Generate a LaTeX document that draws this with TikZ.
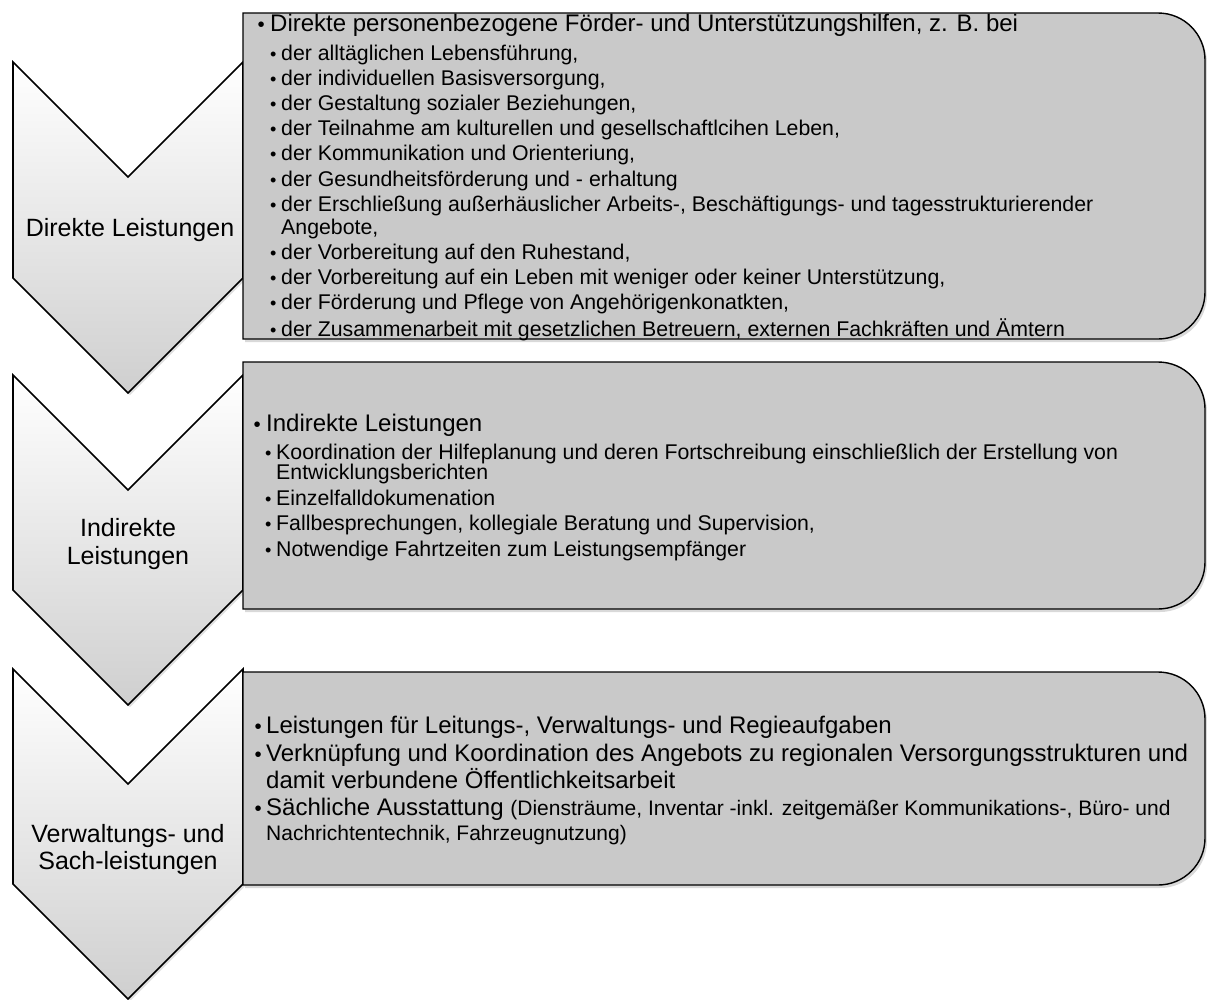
\documentclass[tikz,border=0pt]{standalone}
\usepackage{fontspec}
\setmainfont{Liberation Sans}
\usetikzlibrary{shadows}
\definecolor{boxgray}{HTML}{C9C9C9}
\definecolor{chevbot}{HTML}{CFCFCF}
\newcommand\bu[1]{\makebox[#1pt][c]{\scalebox{0.85}{\textbullet}}}
\tikzset{
  chev/.style={draw=black, line width=1.6pt, line join=miter, top color=white, bottom color=chevbot,
    drop shadow={opacity=0.25, shadow xshift=2pt, shadow yshift=-2pt}},
  panel/.style={draw=black, line width=1.4pt, fill=boxgray,
    drop shadow={opacity=0.3, shadow xshift=2pt, shadow yshift=-3pt}},
  lab/.style={font=\fontsize{25}{28}\selectfont, anchor=base, inner sep=0pt},
  ln/.style={anchor=base west, inner sep=0pt},
  fa/.style={ln, font=\fontsize{24}{28}\selectfont},
  fb/.style={ln, font=\fontsize{21.3}{25}\selectfont},
}
\newcommand\chevpath[2]{% top y, side bottom y
  \path[chev] (13,#1) -- (128,{#1+115}) -- (243,#1) -- (243,#2) -- (128,{#2+115}) -- (13,#2) -- cycle;}
\newcommand\panelpath[2]{% top y, bottom y
  \path[panel] (243,#1) -- (1158,#1) .. controls (1184,#1) and (1205,{#1+21}) .. (1205,{#1+47})
    -- (1205,{#2-47}) .. controls (1205,{#2-21}) and (1184,#2) .. (1158,#2) -- (243,#2) -- cycle;}
\begin{document}
\begin{tikzpicture}[x=1pt,y=-1pt]
\useasboundingbox (0,0) rectangle (1207,999);
% chevrons
\chevpath{62}{278}
\chevpath{375}{590}
\chevpath{669}{884}
% panels
\panelpath{13}{339}
\panelpath{362}{609}
\panelpath{672}{885}
% chevron labels
\node[lab] (c1) at (130,236) {Direkte Leistungen};
\node[lab] (c2a) at (128,536) {Indirekte};
\node[lab] (c2b) at (128,564) {Leistungen};
\node[lab] (c3a) at (128,842) {Verwaltungs- und};
\node[lab] (c3b) at (128,869) {Sach-leistungen};
% panel 1
\node[fa] (p1h) at (252,31) {\bu{18}Direkte personenbezogene Förder- und Unterstützungshilfen, z. B. bei};
\node[fb] (p1a) at (265,60) {\bu{16}der alltäglichen Lebensführung,};
\node[fb] (p1b) at (265,85) {\bu{16}der individuellen Basisversorgung,};
\node[fb] (p1c) at (265,110) {\bu{16}der Gestaltung sozialer Beziehungen,};
\node[fb] (p1d) at (265,135) {\bu{16}der Teilnahme am kulturellen und gesellschaftlcihen Leben,};
\node[fb] (p1e) at (265,160) {\bu{16}der Kommunikation und Orienteriung,};
\node[fb] (p1f) at (265,186) {\bu{16}der Gesundheitsförderung und - erhaltung};
\node[fb] (p1g) at (265,211) {\bu{16}der Erschließung außerhäuslicher Arbeits-, Beschäftigungs- und tagesstrukturierender};
\node[fb] (p1g2) at (281,234) {Angebote,};
\node[fb] (p1h2) at (265,259) {\bu{16}der Vorbereitung auf den Ruhestand,};
\node[fb] (p1i) at (265,284) {\bu{16}der Vorbereitung auf ein Leben mit weniger oder keiner Unterstützung,};
\node[fb] (p1j) at (265,309) {\bu{16}der Förderung und Pflege von Angehörigenkonatkten,};
\node[fb] (p1k) at (265,336) {\bu{16}der Zusammenarbeit mit gesetzlichen Betreuern, externen Fachkräften und Ämtern};
% panel 2
\node[fa] (p2h) at (248,431) {\bu{18}Indirekte Leistungen};
\node[fb] (p2a) at (260,459) {\bu{16}Koordination der Hilfeplanung und deren Fortschreibung einschließlich der Erstellung von};
\node[fb] (p2a2) at (276,479) {Entwicklungsberichten};
\node[fb] (p2b) at (260,505) {\bu{16}Einzelfalldokumenation};
\node[fb] (p2c) at (260,530) {\bu{16}Fallbesprechungen, kollegiale Beratung und Supervision,};
\node[fb] (p2d) at (260,556) {\bu{16}Notwendige Fahrtzeiten zum Leistungsempfänger};
% panel 3
\node[fa] (p3a) at (250,733) {\bu{16}Leistungen für Leitungs-, Verwaltungs- und Regieaufgaben};
\node[fa] (p3b) at (250,761) {\bu{16}Verknüpfung und Koordination des Angebots zu regionalen Versorgungsstrukturen und};
\node[fa] (p3b2) at (266,788) {damit verbundene Öffentlichkeitsarbeit};
\node[fa] (p3c) at (250,815) {\bu{16}Sächliche Ausstattung {\fontsize{21}{24}\selectfont(Diensträume, Inventar -inkl. zeitgemäßer Kommunikations-, Büro- und}};
\node[ln, font=\fontsize{21}{24}\selectfont] (p3c2) at (266,840) {Nachrichtentechnik, Fahrzeugnutzung)};
\end{tikzpicture}
\end{document}
